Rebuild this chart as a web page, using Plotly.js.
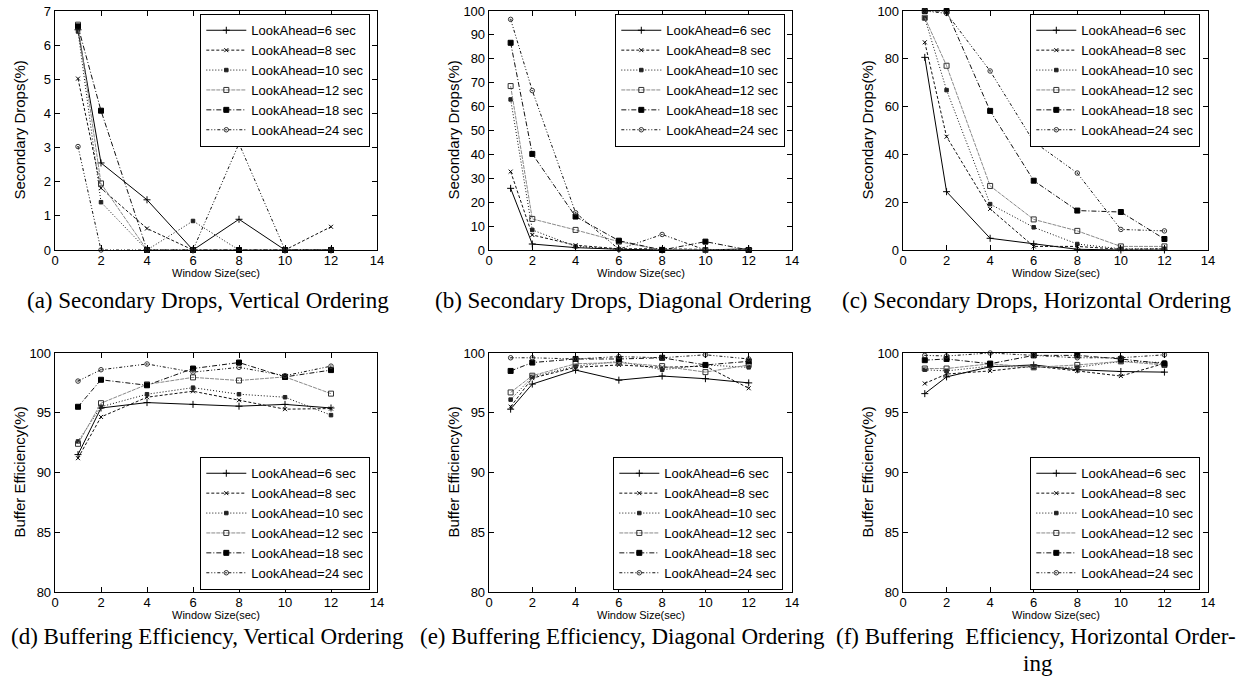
<!DOCTYPE html>
<html>
<head>
<meta charset="utf-8">
<script src="https://cdn.plot.ly/plotly-3.0.1.min.js"></script>
<style>html,body{margin:0;padding:0;background:#fff;}#chart{width:1239px;height:686px;}</style>
</head>
<body>
<div id="chart"></div>
<script>
// ---- Data ----
const windowSizes = [1, 2, 4, 6, 8, 10, 12];
const lookAheadLabels = ['LookAhead=6 sec', 'LookAhead=8 sec', 'LookAhead=10 sec',
                         'LookAhead=12 sec', 'LookAhead=18 sec', 'LookAhead=24 sec'];

// (a) Secondary Drops, Vertical Ordering
const dropsVertical = [
  [6.45, 2.55, 1.47, 0, 0.9, 0, 0],
  [5.02, 1.81, 0.63, 0, 0, 0, 0.68],
  [6.4, 1.4, 0, 0.85, 0, 0, 0],
  [6.6, 1.95, 0, 0, 0, 0, 0],
  [6.55, 4.08, 0, 0, 0, 0, 0],
  [3.03, 0, 0, 0, 3.12, 0, 0]
];
// (b) Secondary Drops, Diagonal Ordering
const dropsDiagonal = [
  [25.8, 2.5, 1.0, 0.3, 0, 0, 0.5],
  [32.8, 6.3, 2.0, 0.5, 0.5, 0.2, 0],
  [63, 8.4, 1.5, 0.3, 0, 0, 0],
  [68.6, 13, 8.4, 3.5, 0, 0, 0],
  [86.7, 40.2, 14, 3.9, 0, 3.5, 0],
  [96.5, 66.7, 15.6, 0.3, 6.5, 0, 0]
];
// (c) Secondary Drops, Horizontal Ordering
const dropsHorizontal = [
  [80.6, 24.4, 4.9, 2.5, 0.3, 0, 0],
  [86.9, 47.4, 17.2, 1.5, 1.5, 0.3, 0.5],
  [97, 66.9, 19.2, 9.5, 2.5, 0.5, 0.5],
  [97.2, 77.1, 26.8, 12.8, 8, 1.5, 1.5],
  [100, 100, 58.2, 29, 16.5, 15.9, 4.6],
  [100, 99, 74.9, 45.3, 32.2, 8.6, 8]
];
// (d) Buffering Efficiency, Vertical Ordering
const effVertical = [
  [91.5, 95.4, 95.85, 95.7, 95.55, 95.7, 95.4],
  [91.2, 94.65, 96.3, 96.8, 96.05, 95.3, 95.35],
  [92.6, 95.5, 96.55, 97.1, 96.55, 96.3, 94.8],
  [92.4, 95.8, 97.37, 97.96, 97.7, 98.0, 96.6],
  [95.5, 97.76, 97.3, 98.7, 99.2, 98.0, 98.57],
  [97.65, 98.6, 99.08, 98.4, 98.8, 98.1, 98.9]
];
// (e) Buffering Efficiency, Diagonal Ordering
const effDiagonal = [
  [95.3, 97.4, 98.57, 97.73, 98.07, 97.85, 97.5],
  [95.5, 97.9, 98.8, 99.0, 98.8, 98.9, 97.05],
  [96.1, 98.0, 98.9, 99.3, 98.6, 99.0, 98.8],
  [96.7, 98.1, 99.1, 99.2, 98.9, 98.4, 99.0],
  [98.5, 99.2, 99.5, 99.5, 99.6, 99.0, 99.3],
  [99.6, 99.6, 99.5, 99.7, 99.6, 99.85, 99.5]
];
// (f) Buffering Efficiency, Horizontal Ordering
const effHorizontal = [
  [96.6, 98.0, 98.85, 99.0, 98.6, 98.45, 98.4],
  [97.45, 98.24, 98.5, 98.9, 98.5, 98.07, 99.13],
  [98.6, 98.5, 98.9, 98.8, 98.8, 99.3, 99.2],
  [98.7, 98.7, 99.1, 98.8, 99.0, 99.3, 99.0],
  [99.4, 99.5, 99.1, 99.8, 99.8, 99.5, 99.1],
  [99.8, 99.75, 100, 99.8, 99.6, 99.6, 99.85]
];

const captions = [
  '(a) Secondary Drops, Vertical Ordering',
  '(b) Secondary Drops, Diagonal Ordering',
  '(c) Secondary Drops, Horizontal Ordering',
  '(d) Buffering Efficiency, Vertical Ordering',
  '(e) Buffering Efficiency, Diagonal Ordering',
  '(f) Buffering Efficiency, Horizontal Order-'
];
const captionTail = 'ing';
const xTitle = 'Window Size(sec)';
const yTitles = ['Secondary Drops(%)', 'Secondary Drops(%)', 'Secondary Drops(%)',
                 'Buffer Efficiency(%)', 'Buffer Efficiency(%)', 'Buffer Efficiency(%)'];
const yRanges = [[0, 7], [0, 100], [0, 100], [80, 100], [80, 100], [80, 100]];
const yDticks = [1, 10, 20, 5, 5, 5];

// ---- Styles / layout ----
const W = 1239, H = 686;
const panelsData = [dropsVertical, dropsDiagonal, dropsHorizontal, effVertical, effDiagonal, effHorizontal];
const seriesStyle = [
  {color: '#000', dash: 'solid', symbol: 'cross-thin-open', size: 5, mcolor: '#000'},
  {color: '#111', dash: '3px,2px', symbol: 'x-thin-open', size: 4, mcolor: '#000'},
  {color: '#111', dash: '1px,2px', symbol: 'square', size: 3.5, mcolor: '#222'},
  {color: '#8a8a8a', dash: '4px,1px', symbol: 'square-open', size: 5, mcolor: '#333'},
  {color: '#111', dash: '5px,2px,1px,2px', symbol: 'square', size: 5, mcolor: '#000'},
  {color: '#111', dash: '3px,2px,1px,2px,1px,2px', symbol: 'circle-open-dot', size: 4.5, mcolor: '#333'}
];
// plot areas in pixels [x0, x1, y0(top), y1(bottom)]
const areas = [
  [55, 377, 11, 250], [489, 792, 11, 250], [903, 1208, 11, 250],
  [55, 377, 353, 592], [489, 792, 353, 592], [903, 1208, 353, 592]
];
const legendPos = [
  {x: 370, y: 14, ya: 'top'}, {x: 785, y: 14, ya: 'top'}, {x: 1200, y: 14, ya: 'top'},
  {x: 370, y: 590, ya: 'bottom'}, {x: 783, y: 590, ya: 'bottom'}, {x: 1200, y: 590, ya: 'bottom'}
];
// caption line extents [x0, x1, yCenter, justify?]
const captionBoxes = [
  [3, 413, 300, false], [420, 827, 300, false], [835, 1238, 300, false],
  [3, 412, 636, false], [418, 827, 636, false], [835, 1236, 636, true]
];

const FONT = 'Liberation Sans, Arial, Helvetica, sans-serif';
const SERIF_NAME = 'Liberation Serif';
const SERIF = 'Liberation Serif, Times New Roman, serif';
const CAP_SIZE = 23;

// justify a caption line to a target width using non-breaking spaces
function justify(text, target) {
  const ctx = document.createElement('canvas').getContext('2d');
  ctx.font = CAP_SIZE + 'px "' + SERIF_NAME + '"';
  const words = text.split(' ');
  const wWords = ctx.measureText(words.join('')).width;
  const spW = ctx.measureText('\u00a0').width || CAP_SIZE * 0.25;
  const gaps = words.length - 1;
  let total = Math.max(gaps, Math.round((target - wWords) / spW));
  let out = words[0];
  for (let i = 1; i < words.length; i++) {
    const n = Math.round(total * i / gaps) - Math.round(total * (i - 1) / gaps);
    out += '\u00a0'.repeat(Math.max(1, n)) + words[i];
  }
  return out;
}

const traces = [];
const layout = {
  width: W, height: H,
  margin: {l: 0, r: 0, t: 0, b: 0},
  paper_bgcolor: '#fff', plot_bgcolor: '#fff',
  font: {family: FONT, size: 13, color: '#000'},
  showlegend: true,
  annotations: []
};

panelsData.forEach((panel, p) => {
  const idx = p + 1;
  const sfx = idx === 1 ? '' : String(idx);
  const legName = 'legend' + sfx;
  panel.forEach((vals, s) => {
    const st = seriesStyle[s];
    traces.push({
      type: 'scatter', mode: 'lines+markers',
      x: windowSizes, y: vals,
      name: lookAheadLabels[s],
      xaxis: 'x' + sfx, yaxis: 'y' + sfx,
      legend: legName,
      cliponaxis: false,
      line: {color: st.color, width: 1, dash: st.dash},
      marker: {symbol: st.symbol, size: st.size, color: st.mcolor,
               line: {color: st.mcolor, width: 1}}
    });
  });
  const a = areas[p];
  const axisCommon = {
    showgrid: false, zeroline: false,
    showline: true, linecolor: '#000', linewidth: 1.3, mirror: 'ticks',
    ticks: 'inside', ticklen: 5, tickcolor: '#000',
    tickfont: {family: FONT, size: 13, color: '#000'}, fixedrange: true
  };
  layout['xaxis' + sfx] = Object.assign({
    domain: [a[0] / W, a[1] / W], anchor: 'y' + sfx,
    range: [0, 14], dtick: 2, tick0: 0, ticklabelstandoff: -2
  }, axisCommon);
  layout['yaxis' + sfx] = Object.assign({
    domain: [1 - a[3] / H, 1 - a[2] / H], anchor: 'x' + sfx,
    range: yRanges[p], dtick: yDticks[p]
  }, axisCommon);
  const lp = legendPos[p];
  layout[legName] = {
    x: lp.x / W, y: 1 - lp.y / H, xref: 'paper', yref: 'paper',
    xanchor: 'right', yanchor: lp.ya,
    bgcolor: '#fff', bordercolor: '#000', borderwidth: 1.3,
    font: {family: FONT, size: 13, color: '#000'},
    tracegroupgap: 0, itemwidth: 40, itemclick: false, itemdoubleclick: false
  };
  // axis titles
  const xc = (a[0] + a[1]) / 2, yc = (a[2] + a[3]) / 2;
  layout.annotations.push({
    text: xTitle, xref: 'paper', yref: 'paper',
    x: xc / W, y: 1 - (a[3] + 23) / H, xanchor: 'center', yanchor: 'middle',
    showarrow: false, font: {family: FONT, size: 11, color: '#000'}
  });
  layout.annotations.push({
    text: yTitles[p], xref: 'paper', yref: 'paper',
    x: (a[0] - 36) / W, y: 1 - yc / H, xanchor: 'center', yanchor: 'middle',
    textangle: -90, showarrow: false, font: {family: FONT, size: 15, color: '#000'}
  });
  // caption
  const cb = captionBoxes[p];
  layout.annotations.push({
    text: cb[3] ? justify(captions[p], cb[1] - cb[0]) : captions[p],
    xref: 'paper', yref: 'paper',
    x: (cb[0] + cb[1]) / 2 / W, y: 1 - cb[2] / H, xanchor: 'center', yanchor: 'middle',
    showarrow: false, font: {family: SERIF, size: CAP_SIZE, color: '#000'}
  });
});
// last caption continuation line
layout.annotations.push({
  text: captionTail, xref: 'paper', yref: 'paper',
  x: 1038 / W, y: 1 - 663 / H, xanchor: 'center', yanchor: 'middle',
  showarrow: false, font: {family: SERIF, size: CAP_SIZE, color: '#000'}
});

Plotly.newPlot('chart', traces, layout, {displayModeBar: false, staticPlot: true});
</script>
</body>
</html>
